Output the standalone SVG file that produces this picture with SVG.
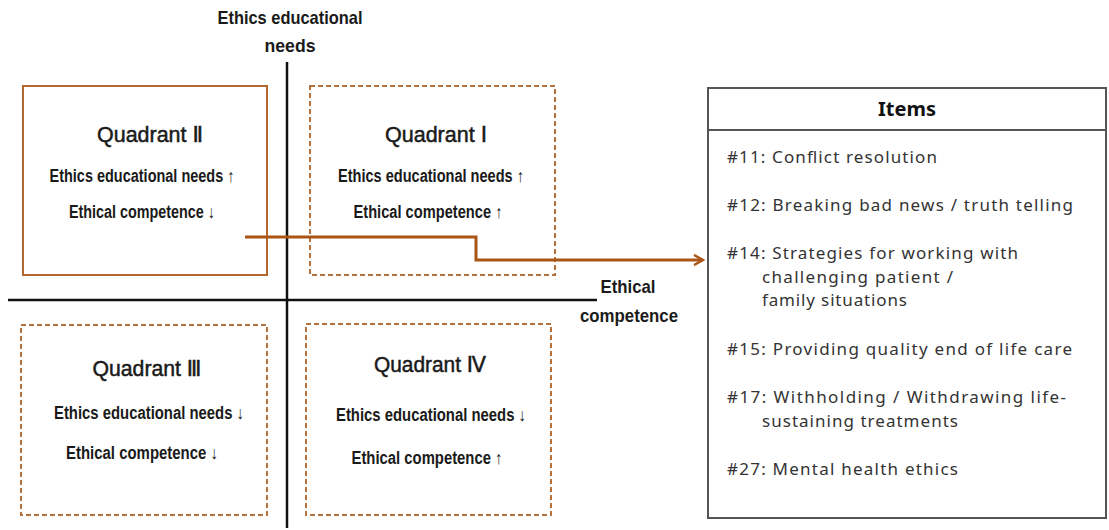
<svg xmlns="http://www.w3.org/2000/svg" width="1109" height="530" viewBox="0 0 1109 530">
<defs>
<style>
.q{font-family:"Liberation Sans","DejaVu Sans",sans-serif;font-weight:bold;fill:#1a1a1a;text-anchor:middle}
.t{font-size:22px;font-weight:normal;stroke:#1a1a1a;stroke-width:0.5}
.s{font-size:18px}
.ax{font-size:19px}
.it{font-family:"Noto Sans","Liberation Sans",sans-serif;font-size:17px;fill:#333}
.solid{fill:none;stroke:#b4672f;stroke-width:2}
.dash{fill:none;stroke:#b5733f;stroke-width:2;stroke-dasharray:5 3}
.axis{stroke:#111;stroke-width:2.5}
</style>
<marker id="arr" viewBox="0 0 12 12" refX="10" refY="6" markerWidth="12" markerHeight="12" markerUnits="userSpaceOnUse" orient="auto">
<path d="M1,1 L10,6 L1,11" fill="none" stroke="#a85516" stroke-width="2.5"/>
</marker>
</defs>
<rect width="1109" height="530" fill="#fff"/>
<g id="axes">
<line class="axis" x1="287" y1="62" x2="287" y2="528"/>
<line class="axis" x1="8" y1="300" x2="597" y2="300"/>
<text class="q ax" x="290" y="24" textLength="145" lengthAdjust="spacingAndGlyphs">Ethics educational</text>
<text class="q ax" x="290" y="52" textLength="51" lengthAdjust="spacingAndGlyphs">needs</text>
<text class="q ax" x="628" y="293" textLength="55" lengthAdjust="spacingAndGlyphs">Ethical</text>
<text class="q ax" x="629" y="322" textLength="98" lengthAdjust="spacingAndGlyphs">competence</text>
</g>
<g id="quadrant2">
<rect class="solid" x="23" y="86" width="244" height="189"/>
<text class="q t" x="150" y="142" textLength="106" lengthAdjust="spacingAndGlyphs">Quadrant Ⅱ</text>
<text class="q s" x="142" y="182" textLength="185" lengthAdjust="spacingAndGlyphs">Ethics educational needs ↑</text>
<text class="q s" x="142" y="218" textLength="146" lengthAdjust="spacingAndGlyphs">Ethical competence ↓</text>
</g>
<g id="quadrant1">
<rect class="dash" x="310" y="86" width="245" height="189"/>
<text class="q t" x="436" y="142" textLength="102" lengthAdjust="spacingAndGlyphs">Quadrant Ⅰ</text>
<text class="q s" x="431" y="182" textLength="186" lengthAdjust="spacingAndGlyphs">Ethics educational needs ↑</text>
<text class="q s" x="428" y="218" textLength="149" lengthAdjust="spacingAndGlyphs">Ethical competence ↑</text>
</g>
<g id="quadrant3">
<rect class="dash" x="21" y="325" width="246" height="190"/>
<text class="q t" x="147" y="376" textLength="109" lengthAdjust="spacingAndGlyphs">Quadrant Ⅲ</text>
<text class="q s" x="149" y="419" textLength="190" lengthAdjust="spacingAndGlyphs">Ethics educational needs ↓</text>
<text class="q s" x="142" y="459" textLength="152" lengthAdjust="spacingAndGlyphs">Ethical competence ↓</text>
</g>
<g id="quadrant4">
<rect class="dash" x="306" y="324" width="245" height="191"/>
<text class="q t" x="430" y="372" textLength="112" lengthAdjust="spacingAndGlyphs">Quadrant Ⅳ</text>
<text class="q s" x="431" y="421" textLength="190" lengthAdjust="spacingAndGlyphs">Ethics educational needs ↓</text>
<text class="q s" x="427" y="464" textLength="151" lengthAdjust="spacingAndGlyphs">Ethical competence ↑</text>
</g>
<g id="connectors">
<polyline points="245,237 476,237 476,260 703,260" fill="none" stroke="#a85516" stroke-width="3" marker-end="url(#arr)"/>
</g>
<g id="items">
<rect x="708" y="88" width="398" height="430" fill="none" stroke="#555" stroke-width="2"/>
<line x1="708" y1="130" x2="1106" y2="130" stroke="#555" stroke-width="2"/>
<text x="907" y="116" font-family="'Noto Sans','Liberation Sans',sans-serif" font-size="20" font-weight="bold" fill="#111" text-anchor="middle">Items</text>
<text class="it" x="727" y="163" textLength="210" lengthAdjust="spacing">#11: Conflict resolution</text>
<text class="it" x="727" y="211" textLength="346" lengthAdjust="spacing">#12: Breaking bad news / truth telling</text>
<text class="it" x="727" y="259" textLength="291" lengthAdjust="spacing">#14: Strategies for working with</text>
<text class="it" x="762" y="283" textLength="191" lengthAdjust="spacing">challenging patient /</text>
<text class="it" x="762" y="306" textLength="145" lengthAdjust="spacing">family situations</text>
<text class="it" x="727" y="355" textLength="345" lengthAdjust="spacing">#15: Providing quality end of life care</text>
<text class="it" x="727" y="403" textLength="339" lengthAdjust="spacing">#17: Withholding / Withdrawing life-</text>
<text class="it" x="762" y="427" textLength="196" lengthAdjust="spacing">sustaining treatments</text>
<text class="it" x="727" y="475" textLength="231" lengthAdjust="spacing">#27: Mental health ethics</text>
</g>
</svg>
